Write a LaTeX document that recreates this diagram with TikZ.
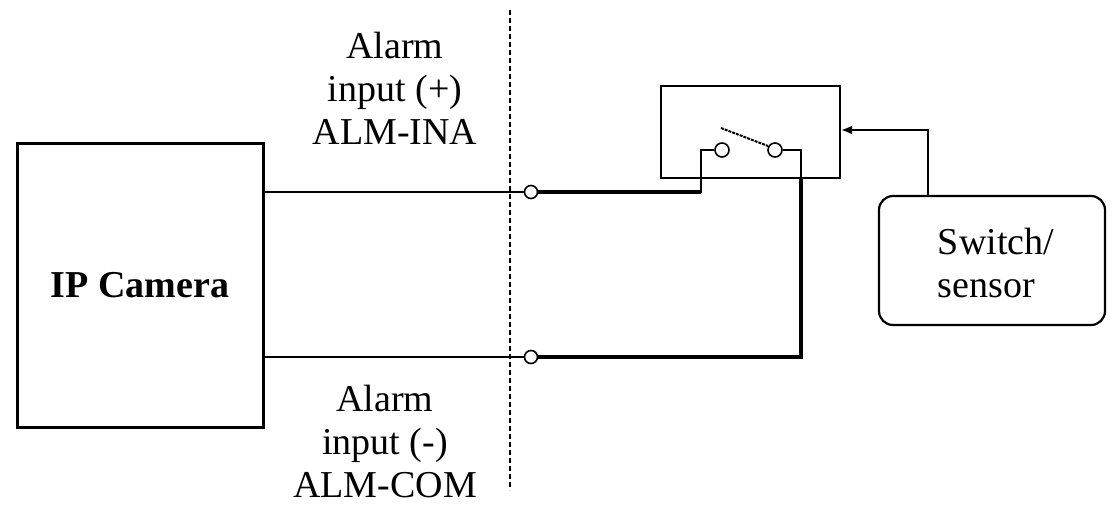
\documentclass[tikz,border=0pt]{standalone}
\usepackage{fontspec}
\setmainfont{Liberation Serif}
\usetikzlibrary{arrows.meta}
\begin{document}
\begin{tikzpicture}[x=1pt,y=-1pt,
  thin wire/.style={line width=1.6pt},
  thick wire/.style={line width=4.5pt},
  box/.style={draw,line width=3pt},
  term/.style={circle,draw,line width=1.6pt,fill=white,minimum size=13pt,inner sep=0pt},
  lbl/.style={align=center,font=\fontsize{38}{43}\selectfont}]
\useasboundingbox (0,0) rectangle (1115,514);
\node[box,minimum width=246pt,minimum height=284pt,font=\fontsize{38}{43}\selectfont\bfseries] (cam) at (140,285) {IP Camera};
\draw[line width=1.5pt,dash pattern=on 5pt off 3pt] (510,10) -- (510,490);
\coordinate (c1) at (264,192);
\coordinate (c2) at (264,357);
\node[term] (t1) at (531,192) {};
\node[term] (t2) at (531,357) {};
\draw[thin wire] (c1) -- (t1.west);
\draw[thin wire] (c2) -- (t2.west);
\node[box,line width=2.2pt,minimum width=179pt,minimum height=92pt] (relay) at (750.5,132) {};
\node[term,minimum size=14pt] (k1) at (722,150) {};
\node[term,minimum size=14pt] (k2) at (775,150) {};
\draw[line width=2pt,dash pattern=on 3pt off 1pt] (721,128) -- (768,146);
\draw[thick wire] (t1.east) -- (701,192);
\draw[line width=2.5pt] (701,193) -- (701,150) -- (k1.west);
\draw[line width=2.5pt] (k2.east) -- (801,150) -- (801,178);
\draw[thick wire] (801,178) -- (801,357) -- (t2.east);
\node[draw,line width=2.2pt,rounded corners=14pt,minimum width=226pt,minimum height=129pt] (sw) at (992,260.5) {};
\node[lbl,align=left] at (996,263) {Switch/\\sensor};
\coordinate (a1) at (928,130);
\draw[line width=2pt,-{Latex[length=11pt,width=9pt]}] (sw.north -| a1) -- (a1) -- (relay.east |- a1);
\node[lbl] at (395,88) {Alarm\\input (+)\\ALM-INA};
\node[lbl] at (385,441) {Alarm\\input (-)\\ALM-COM};
\end{tikzpicture}
\end{document}
